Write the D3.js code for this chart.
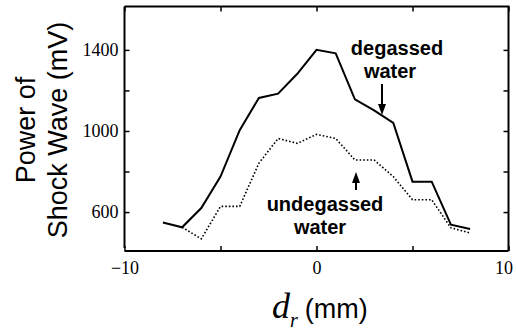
<!DOCTYPE html>
<html><head><meta charset="utf-8">
<script src="https://cdn.jsdelivr.net/npm/d3@7"></script>
<style>body{margin:0;background:#fff}svg{display:block}</style>
</head><body>
<svg id="c" width="516" height="331"></svg>
<script>
const dr = [-8,-7,-6,-5,-4,-3,-2,-1,0,1,2,3,4,5,6,7,8];
const degassed = [549,525,620,775,1004,1163,1184,1282,1400,1383,1156,1102,1040,750,750,538,517];
const undegX = [-7,-6,-5,-4,-3,-2,-1,0,1,2,3,4,5,6,7,8];
const undegassed = [525,468,628,628,841,963,939,983,963,857,857,775,661,661,522,497];
const xTicks = [-10,-5,0,5,10];
const xLabels = [-10,0,10];
const yTicks = [600,800,1000,1200,1400];
const yLabels = [600,1000,1400];

const svg = d3.select("#c");
const L=124.5,R=508.5,T=6.5,B=251;
const x = d3.scaleLinear().domain([-10,10]).range([L,R]);
const y = d3.scaleLinear().domain([408,1614]).range([B,T]);

// frame
svg.append("path").attr("d",`M${L},${T}H${R}V${B}`).attr("fill","none").attr("stroke","#000").attr("stroke-width",2);
svg.append("line").attr("x1",L).attr("x2",L).attr("y1",T).attr("y2",B-3).attr("stroke","#000").attr("stroke-width",2);
svg.append("line").attr("x1",L).attr("x2",R).attr("y1",B).attr("y2",B).attr("stroke","#000").attr("stroke-width",2);

const fmtX = d => xLabels.includes(d) ? (d<0?"\u2212"+(-d):d) : "";
const fmtY = d => yLabels.includes(d) ? d : "";
const ax = (g)=>{g.select(".domain").remove();g.selectAll("line").attr("stroke-width",1.5);
  g.attr("font-family",null).attr("font-size",null);
  g.selectAll("text").style("font-family","'Liberation Serif','Times New Roman',serif").style("font-size","18px").attr("fill","#000");};
const gx = svg.append("g").attr("transform",`translate(0,${B})`).call(d3.axisBottom(x).tickValues(xTicks).tickSize(-5).tickPadding(10).tickFormat(fmtX)).call(ax);
gx.selectAll("text").filter(d=>d===10).attr("dx",-5);
svg.append("g").attr("transform",`translate(0,${T})`).call(d3.axisTop(x).tickValues(xTicks).tickSize(-5).tickFormat("")).call(ax);
svg.append("g").attr("transform",`translate(${L},0)`).call(d3.axisLeft(y).tickValues(yTicks).tickSize(-5).tickPadding(6).tickFormat(fmtY)).call(ax);
svg.append("g").attr("transform",`translate(${R},0)`).call(d3.axisRight(y).tickValues(yTicks).tickSize(-5).tickFormat("")).call(ax);

const line = d3.line().x(d=>x(d[0])).y(d=>y(d[1]));
svg.append("path").datum(dr.map((d,i)=>[d,degassed[i]])).attr("d",line)
  .attr("fill","none").attr("stroke","#000").attr("stroke-width",2);
svg.append("path").datum(undegX.map((d,i)=>[d,undegassed[i]])).attr("d",line)
  .attr("fill","none").attr("stroke","#000").attr("stroke-width",1.6).attr("stroke-dasharray","1.6,2");

// y title
const yt = svg.append("text").attr("transform","translate(35,130) rotate(-90)")
  .style("font-family","'Liberation Sans',Arial,sans-serif").style("font-size","27px").attr("text-anchor","middle");
yt.append("tspan").attr("x",0).attr("y",0).text("Power of");
yt.append("tspan").attr("x",0).attr("y",32).text("Shock Wave (mV)");

// x title
const xt = svg.append("text").attr("x",272).attr("y",318);
xt.append("tspan").style("font-family","'Liberation Serif',serif").style("font-style","italic").style("font-size","36px").text("d");
xt.append("tspan").style("font-family","'Liberation Serif',serif").style("font-style","italic").style("font-size","20px").attr("dy",9).text("r");
xt.append("tspan").style("font-family","'Liberation Sans',sans-serif").style("font-size","27px").attr("dx",7).attr("dy",-9).text("(mm)");

// annotations
const ann = (t,cx,by)=>svg.append("text").attr("x",cx).attr("y",by).attr("text-anchor","middle")
  .style("font-family","'Liberation Sans',Arial,sans-serif").style("font-weight","bold").style("font-size","20px").text(t);
ann("degassed",397,55); ann("water",390,77.5);
ann("undegassed",325,211); ann("water",320,233.5);

const arrow=(xa,y0,y1)=>{
  const dir = Math.sign(y1-y0);
  svg.append("line").attr("x1",xa).attr("x2",xa).attr("y1",y0).attr("y2",y1-dir*6).attr("stroke","#000").attr("stroke-width",2);
  svg.append("path").attr("d",`M${xa},${y1}L${xa-4},${y1-dir*11}L${xa+4},${y1-dir*11}Z`).attr("fill","#000");
};
arrow(382,84,115);
arrow(356,190,172);
</script>
</body></html>
